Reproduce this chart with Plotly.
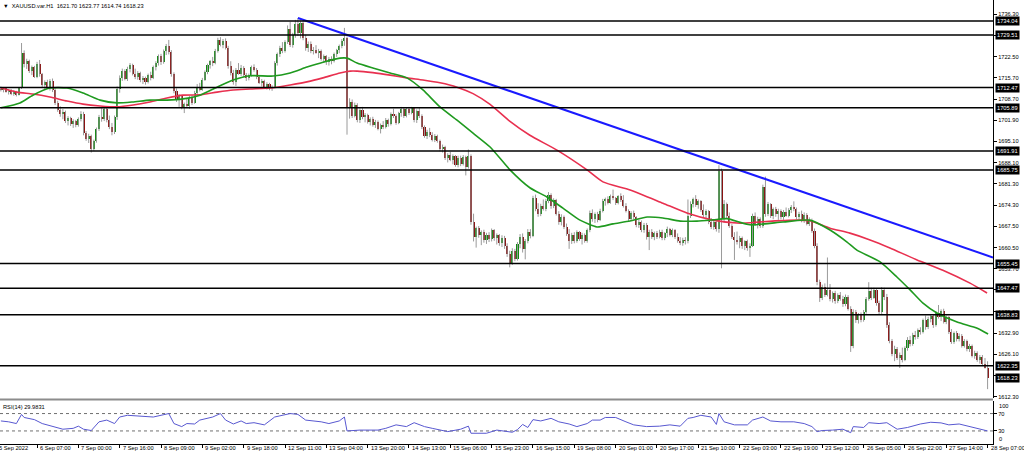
import plotly.graph_objects as go

# ---------------- data ----------------
first_bar = 2  # bar index of the first visible candle (bar 0 = "5 Sep 2022" label)

opens = [
    1712.0, 1711.6, 1712.2, 1711.1, 1711.5, 1710.4, 1711.0, 1710.1, 1712.3, 1723.8,
    1720.2, 1721.0, 1717.8, 1719.2, 1716.0, 1720.2, 1716.8, 1713.3, 1714.2, 1712.6,
    1714.6, 1711.6, 1707.4, 1705.3, 1703.8, 1704.6, 1701.6, 1702.5, 1700.6, 1701.6,
    1700.2, 1702.3, 1704.0, 1697.6, 1695.8, 1696.8, 1692.5, 1695.0, 1699.0, 1703.0,
    1702.2, 1705.4, 1701.8, 1699.6, 1698.2, 1702.8, 1712.0, 1715.6, 1717.8, 1715.4,
    1718.6, 1719.8, 1717.0, 1716.0, 1717.2, 1714.8, 1715.6, 1714.2, 1716.4, 1715.6,
    1719.0, 1720.4, 1722.6, 1720.8, 1724.2, 1725.8, 1724.0, 1716.8, 1711.4, 1708.6,
    1709.6, 1706.0, 1707.0, 1706.4, 1709.2, 1707.6, 1710.8, 1712.6, 1711.8, 1715.0,
    1717.4, 1719.8, 1721.0, 1720.4, 1724.4, 1727.8, 1726.4, 1727.6, 1725.4, 1719.4,
    1717.2, 1714.2, 1718.2, 1717.0, 1718.8, 1716.4, 1715.6, 1716.6, 1719.0, 1718.2,
    1715.8, 1714.0, 1714.6, 1712.8, 1713.6, 1712.4, 1712.8, 1720.4, 1723.2, 1725.4,
    1724.2, 1727.2, 1731.4, 1726.4, 1729.4, 1733.2, 1730.0, 1733.4, 1728.6, 1725.2,
    1726.6, 1724.2, 1724.8, 1723.8, 1724.4, 1721.8, 1722.6, 1720.6, 1721.8, 1721.0,
    1723.2, 1724.6, 1725.8, 1727.6, 1728.4, 1706.0, 1707.8, 1703.4, 1706.8, 1701.8,
    1705.2, 1702.8, 1703.6, 1701.4, 1702.2, 1700.4, 1701.4, 1699.2, 1700.2, 1699.6,
    1702.0, 1700.6, 1703.8, 1703.2, 1701.0, 1704.2, 1705.4, 1703.2, 1705.6, 1704.2,
    1705.8, 1701.8, 1704.8, 1703.4, 1699.6, 1696.8, 1698.2, 1697.0, 1695.6, 1696.8,
    1695.2, 1692.4, 1693.2, 1689.6, 1690.6, 1689.0, 1690.2, 1687.4, 1689.8, 1687.8,
    1690.0, 1686.8, 1690.2, 1669.0, 1664.0, 1666.8, 1664.6, 1665.6, 1663.0, 1664.8,
    1663.4, 1666.2, 1663.6, 1664.6, 1662.0, 1663.8, 1661.0, 1658.4, 1655.6, 1659.6,
    1657.0, 1661.8, 1664.2, 1660.0, 1662.6, 1665.8, 1664.4, 1676.6, 1673.2, 1671.4,
    1674.2, 1673.0, 1675.8, 1677.6, 1674.0, 1676.0, 1671.6, 1668.8, 1670.6, 1667.2,
    1665.0, 1662.6, 1664.8, 1662.8, 1665.6, 1663.4, 1664.8, 1662.8, 1666.2, 1671.8,
    1669.8, 1671.4, 1669.6, 1672.6, 1675.8, 1676.2, 1675.2, 1677.2, 1676.6, 1675.0,
    1677.2, 1676.0, 1674.2, 1672.6, 1669.8, 1671.8, 1670.4, 1667.8, 1669.0, 1666.2,
    1668.0, 1664.0, 1665.8, 1664.2, 1665.2, 1664.0, 1665.8, 1663.6, 1665.2, 1666.6,
    1664.8, 1666.2, 1664.0, 1662.8, 1662.0, 1663.2, 1662.6, 1671.0, 1674.8, 1676.2,
    1674.4, 1675.6, 1672.8, 1671.2, 1672.4, 1668.8, 1667.4, 1668.8, 1666.6, 1685.4,
    1669.8, 1674.6, 1671.0, 1667.6, 1664.0, 1663.2, 1662.4, 1663.6, 1661.0, 1662.6,
    1660.4, 1661.2, 1671.0, 1668.4, 1669.8, 1667.6, 1680.4, 1671.4, 1674.6, 1670.8,
    1673.0, 1671.4, 1672.6, 1670.4, 1672.2, 1671.0, 1672.8, 1673.8, 1673.0, 1670.4,
    1671.6, 1669.4, 1671.2, 1668.4, 1669.6, 1666.0, 1661.2, 1649.4, 1644.4, 1647.8,
    1645.4, 1646.8, 1644.0, 1645.8, 1643.2, 1645.2, 1644.0, 1642.2, 1644.6, 1640.8,
    1628.6, 1639.6, 1637.0, 1638.8, 1637.2, 1639.8, 1644.0, 1646.6, 1644.4, 1647.0,
    1642.6, 1639.6, 1646.8, 1644.6, 1635.6, 1630.4, 1626.2, 1627.8, 1624.8, 1625.8,
    1624.2, 1628.0, 1630.8, 1629.4, 1632.4, 1631.6, 1633.8, 1633.2, 1637.0, 1634.8,
    1637.6, 1638.4, 1635.4, 1639.4, 1638.2, 1640.0, 1636.6, 1638.0, 1633.4, 1630.0,
    1632.8, 1631.0, 1632.0, 1628.8, 1630.4, 1627.6, 1628.8, 1625.6, 1626.6, 1624.2,
    1625.2, 1622.8, 1621.70,
]
highs = [
    1712.8, 1712.5, 1712.6, 1711.9, 1712.0, 1711.6, 1711.4, 1712.6, 1726.9, 1724.5,
    1721.8, 1721.5, 1719.6, 1719.5, 1720.8, 1721.4, 1717.2, 1714.8, 1715.0, 1715.2,
    1715.4, 1712.2, 1708.2, 1706.4, 1705.5, 1705.0, 1703.2, 1703.0, 1702.2, 1702.0,
    1702.8, 1704.8, 1704.6, 1698.4, 1697.5, 1697.2, 1695.6, 1699.5, 1703.6, 1705.8,
    1706.2, 1706.0, 1703.4, 1701.0, 1703.4, 1712.8, 1716.4, 1718.6, 1718.4, 1719.2,
    1720.4, 1720.2, 1718.6, 1717.8, 1717.6, 1716.2, 1716.0, 1717.0, 1717.6, 1719.6,
    1721.0, 1723.2, 1723.4, 1724.8, 1726.6, 1727.9, 1724.6, 1717.4, 1712.2, 1710.4,
    1710.0, 1707.6, 1708.8, 1709.8, 1710.0, 1711.4, 1713.6, 1714.0, 1715.6, 1718.0,
    1720.2, 1721.4, 1722.4, 1725.0, 1728.6, 1728.8, 1728.2, 1728.4, 1726.0, 1721.0,
    1718.2, 1718.8, 1720.4, 1719.8, 1719.4, 1717.2, 1717.0, 1719.6, 1720.0, 1718.8,
    1716.4, 1715.2, 1715.0, 1714.2, 1714.0, 1713.2, 1721.0, 1723.8, 1726.0, 1727.2,
    1727.8, 1732.6, 1733.8, 1730.2, 1734.4, 1735.0, 1734.2, 1734.0, 1729.6, 1727.4,
    1727.4, 1725.6, 1726.2, 1725.0, 1724.8, 1723.2, 1723.0, 1722.4, 1722.6, 1723.8,
    1725.0, 1726.4, 1728.2, 1731.8, 1729.0, 1709.0, 1708.6, 1707.6, 1707.4, 1705.8,
    1706.2, 1704.2, 1704.0, 1702.8, 1703.0, 1702.0, 1701.8, 1700.8, 1701.6, 1702.6,
    1702.4, 1704.4, 1705.6, 1703.8, 1704.6, 1706.2, 1705.8, 1706.0, 1706.2, 1706.2,
    1706.0, 1705.4, 1705.8, 1703.8, 1700.2, 1698.8, 1699.4, 1698.0, 1697.4, 1697.2,
    1695.6, 1694.0, 1693.6, 1691.2, 1691.6, 1690.8, 1690.6, 1690.4, 1690.4, 1690.6,
    1690.4, 1692.4, 1690.8, 1671.6, 1667.4, 1667.6, 1666.2, 1666.4, 1665.4, 1665.6,
    1666.8, 1666.6, 1665.2, 1665.0, 1664.6, 1664.4, 1662.0, 1659.6, 1660.4, 1660.2,
    1662.4, 1665.0, 1665.2, 1663.4, 1666.6, 1666.6, 1677.4, 1677.8, 1675.0, 1674.8,
    1676.2, 1676.4, 1678.6, 1678.2, 1676.6, 1676.4, 1672.4, 1671.4, 1671.0, 1668.4,
    1666.6, 1665.4, 1665.6, 1666.2, 1666.0, 1665.4, 1665.2, 1666.8, 1672.6, 1673.0,
    1672.0, 1672.2, 1673.2, 1676.4, 1676.8, 1677.2, 1677.8, 1679.4, 1677.0, 1677.6,
    1678.2, 1677.6, 1675.0, 1673.0, 1672.4, 1672.6, 1670.8, 1669.6, 1669.4, 1668.6,
    1668.6, 1666.4, 1666.6, 1665.8, 1666.0, 1666.4, 1666.4, 1665.6, 1667.4, 1667.0,
    1666.8, 1666.6, 1665.2, 1664.0, 1663.8, 1664.0, 1676.2, 1675.6, 1676.8, 1677.6,
    1676.2, 1676.0, 1674.6, 1673.0, 1672.8, 1670.2, 1669.6, 1669.2, 1687.3, 1686.2,
    1676.0, 1675.2, 1672.0, 1668.2, 1665.6, 1665.8, 1664.4, 1664.2, 1663.0, 1663.2,
    1662.0, 1671.6, 1672.0, 1670.6, 1670.4, 1681.0, 1683.6, 1675.4, 1675.0, 1673.6,
    1673.8, 1673.2, 1673.0, 1672.8, 1673.6, 1673.4, 1674.4, 1675.6, 1673.6, 1672.2,
    1672.6, 1672.0, 1671.8, 1670.4, 1670.0, 1666.8, 1662.0, 1650.2, 1648.6, 1649.0,
    1657.4, 1648.8, 1646.4, 1646.6, 1645.8, 1646.2, 1645.0, 1645.4, 1645.2, 1641.6,
    1640.6, 1640.4, 1639.4, 1639.6, 1640.4, 1644.6, 1649.4, 1647.6, 1647.6, 1647.4,
    1643.4, 1647.8, 1647.6, 1645.6, 1636.4, 1631.0, 1628.8, 1628.4, 1626.6, 1628.2,
    1628.6, 1631.6, 1632.0, 1633.0, 1633.6, 1634.4, 1634.8, 1637.6, 1638.6, 1638.2,
    1639.0, 1638.8, 1640.0, 1642.0, 1640.6, 1640.8, 1638.6, 1638.4, 1634.2, 1633.4,
    1633.6, 1632.8, 1632.6, 1631.0, 1630.8, 1629.4, 1629.2, 1627.2, 1627.0, 1625.8,
    1625.8, 1624.8, 1623.77,
]
lows = [
    1711.2, 1710.9, 1710.8, 1710.2, 1710.0, 1709.8, 1709.6, 1709.9, 1712.0, 1719.0,
    1718.5, 1717.2, 1716.5, 1715.6, 1715.5, 1716.0, 1712.5, 1711.8, 1712.0, 1711.5,
    1711.0, 1706.8, 1704.6, 1703.0, 1702.2, 1701.0, 1700.2, 1700.0, 1699.4, 1699.6,
    1699.8, 1701.5, 1697.0, 1695.2, 1694.5, 1691.4, 1692.0, 1694.6, 1698.4, 1701.4,
    1701.6, 1701.2, 1699.0, 1697.0, 1697.4, 1702.0, 1710.8, 1714.6, 1714.8, 1714.6,
    1717.4, 1716.4, 1715.2, 1715.0, 1714.2, 1713.6, 1713.4, 1713.8, 1714.8, 1715.2,
    1718.0, 1719.6, 1719.8, 1720.2, 1723.0, 1723.2, 1716.0, 1710.6, 1707.8, 1706.2,
    1705.4, 1704.2, 1705.8, 1705.6, 1706.8, 1707.2, 1710.0, 1711.2, 1711.4, 1714.6,
    1716.8, 1718.6, 1719.4, 1720.0, 1723.8, 1725.8, 1725.2, 1724.8, 1718.6, 1716.4,
    1713.4, 1713.0, 1716.6, 1716.2, 1715.8, 1714.6, 1714.8, 1716.0, 1717.6, 1715.2,
    1713.6, 1712.8, 1712.2, 1711.8, 1711.6, 1711.4, 1712.4, 1719.6, 1722.4, 1723.6,
    1723.8, 1726.6, 1725.6, 1725.4, 1728.6, 1729.2, 1728.4, 1727.8, 1724.4, 1724.0,
    1723.6, 1723.2, 1723.4, 1722.0, 1721.2, 1720.4, 1719.8, 1719.6, 1720.0, 1720.6,
    1722.4, 1723.6, 1725.2, 1726.0, 1697.2, 1702.4, 1702.6, 1702.8, 1701.2, 1701.0,
    1702.2, 1701.2, 1700.8, 1700.2, 1699.8, 1699.4, 1698.6, 1697.6, 1699.0, 1699.2,
    1699.8, 1700.2, 1702.6, 1700.4, 1700.6, 1703.0, 1702.6, 1702.8, 1703.6, 1703.8,
    1701.2, 1701.0, 1702.6, 1699.0, 1696.2, 1695.8, 1696.4, 1695.0, 1694.8, 1694.6,
    1691.8, 1691.4, 1689.0, 1688.2, 1688.6, 1687.6, 1686.8, 1686.6, 1687.0, 1687.2,
    1684.0, 1686.2, 1668.0, 1662.6, 1660.6, 1663.8, 1661.4, 1662.2, 1661.8, 1662.4,
    1662.6, 1662.8, 1661.6, 1661.2, 1660.8, 1660.2, 1657.6, 1654.2, 1655.0, 1656.2,
    1656.4, 1660.4, 1659.0, 1656.8, 1662.0, 1663.6, 1664.0, 1672.4, 1670.6, 1670.8,
    1672.6, 1672.4, 1675.0, 1673.2, 1673.4, 1671.0, 1668.0, 1667.8, 1666.6, 1664.4,
    1660.2, 1661.8, 1662.0, 1662.2, 1662.8, 1661.6, 1662.2, 1662.2, 1665.6, 1669.0,
    1668.6, 1668.8, 1669.2, 1672.0, 1674.2, 1674.6, 1674.8, 1676.0, 1674.4, 1674.6,
    1675.4, 1673.6, 1672.0, 1669.2, 1669.2, 1669.8, 1667.2, 1667.0, 1665.6, 1665.4,
    1663.2, 1659.8, 1663.4, 1663.0, 1663.4, 1663.6, 1663.0, 1663.0, 1664.0, 1664.2,
    1664.0, 1663.4, 1662.2, 1661.4, 1661.2, 1661.6, 1662.0, 1670.2, 1673.6, 1673.8,
    1673.2, 1672.2, 1670.4, 1669.8, 1668.2, 1666.6, 1666.4, 1665.8, 1665.4, 1653.9,
    1668.6, 1670.2, 1667.0, 1663.4, 1656.6, 1661.6, 1660.4, 1660.2, 1659.8, 1659.6,
    1657.6, 1660.8, 1667.6, 1666.8, 1667.0, 1667.0, 1670.6, 1670.8, 1670.2, 1669.8,
    1670.6, 1669.6, 1669.8, 1669.6, 1670.6, 1670.4, 1671.8, 1672.4, 1669.8, 1669.6,
    1668.8, 1668.6, 1667.8, 1667.6, 1665.4, 1660.4, 1648.4, 1643.0, 1643.6, 1644.6,
    1644.8, 1643.2, 1642.8, 1642.4, 1642.6, 1643.4, 1641.4, 1641.6, 1640.2, 1626.8,
    1628.0, 1636.2, 1636.0, 1636.4, 1636.6, 1639.2, 1643.4, 1643.6, 1644.0, 1641.8,
    1638.8, 1639.0, 1643.6, 1634.6, 1629.6, 1625.4, 1623.8, 1624.2, 1621.6, 1623.4,
    1623.8, 1627.2, 1628.6, 1628.8, 1630.8, 1631.0, 1632.4, 1632.8, 1634.0, 1634.2,
    1636.4, 1634.6, 1635.0, 1637.6, 1636.8, 1636.0, 1635.8, 1632.6, 1629.4, 1629.4,
    1630.2, 1630.2, 1628.2, 1628.2, 1627.0, 1626.8, 1625.0, 1624.6, 1623.6, 1623.0,
    1622.2, 1621.4, 1614.74,
]
closes = [
    1711.6, 1712.2, 1711.1, 1711.5, 1710.4, 1711.0, 1710.1, 1712.3, 1723.8, 1720.2,
    1721.0, 1717.8, 1719.2, 1716.0, 1720.2, 1716.8, 1713.3, 1714.2, 1712.6, 1714.6,
    1711.6, 1707.4, 1705.3, 1703.8, 1704.6, 1701.6, 1702.5, 1700.6, 1701.6, 1700.2,
    1702.3, 1704.0, 1697.6, 1695.8, 1696.8, 1692.5, 1695.0, 1699.0, 1703.0, 1702.2,
    1705.4, 1701.8, 1699.6, 1698.2, 1702.8, 1712.0, 1715.6, 1717.8, 1715.4, 1718.6,
    1719.8, 1717.0, 1716.0, 1717.2, 1714.8, 1715.6, 1714.2, 1716.4, 1715.6, 1719.0,
    1720.4, 1722.6, 1720.8, 1724.2, 1725.8, 1724.0, 1716.8, 1711.4, 1708.6, 1709.6,
    1706.0, 1707.0, 1706.4, 1709.2, 1707.6, 1710.8, 1712.6, 1711.8, 1715.0, 1717.4,
    1719.8, 1721.0, 1720.4, 1724.4, 1727.8, 1726.4, 1727.6, 1725.4, 1719.4, 1717.2,
    1714.2, 1718.2, 1717.0, 1718.8, 1716.4, 1715.6, 1716.6, 1719.0, 1718.2, 1715.8,
    1714.0, 1714.6, 1712.8, 1713.6, 1712.4, 1712.8, 1720.4, 1723.2, 1725.4, 1724.2,
    1727.2, 1731.4, 1726.4, 1729.4, 1733.2, 1730.0, 1733.4, 1728.6, 1725.2, 1726.6,
    1724.2, 1724.8, 1723.8, 1724.4, 1721.8, 1722.6, 1720.6, 1721.8, 1721.0, 1723.2,
    1724.6, 1725.8, 1727.6, 1728.4, 1706.0, 1707.8, 1703.4, 1706.8, 1701.8, 1705.2,
    1702.8, 1703.6, 1701.4, 1702.2, 1700.4, 1701.4, 1699.2, 1700.2, 1699.6, 1702.0,
    1700.6, 1703.8, 1703.2, 1701.0, 1704.2, 1705.4, 1703.2, 1705.6, 1704.2, 1705.8,
    1701.8, 1704.8, 1703.4, 1699.6, 1696.8, 1698.2, 1697.0, 1695.6, 1696.8, 1695.2,
    1692.4, 1693.2, 1689.6, 1690.6, 1689.0, 1690.2, 1687.4, 1689.8, 1687.8, 1690.0,
    1686.8, 1690.2, 1669.0, 1664.0, 1666.8, 1664.6, 1665.6, 1663.0, 1664.8, 1663.4,
    1666.2, 1663.6, 1664.6, 1662.0, 1663.8, 1661.0, 1658.4, 1655.6, 1659.6, 1657.0,
    1661.8, 1664.2, 1660.0, 1662.6, 1665.8, 1664.4, 1676.6, 1673.2, 1671.4, 1674.2,
    1673.0, 1675.8, 1677.6, 1674.0, 1676.0, 1671.6, 1668.8, 1670.6, 1667.2, 1665.0,
    1662.6, 1664.8, 1662.8, 1665.6, 1663.4, 1664.8, 1662.8, 1666.2, 1671.8, 1669.8,
    1671.4, 1669.6, 1672.6, 1675.8, 1676.2, 1675.2, 1677.2, 1676.6, 1675.0, 1677.2,
    1676.0, 1674.2, 1672.6, 1669.8, 1671.8, 1670.4, 1667.8, 1669.0, 1666.2, 1668.0,
    1664.0, 1665.8, 1664.2, 1665.2, 1664.0, 1665.8, 1663.6, 1665.2, 1666.6, 1664.8,
    1666.2, 1664.0, 1662.8, 1662.0, 1663.2, 1662.6, 1671.0, 1674.8, 1676.2, 1674.4,
    1675.6, 1672.8, 1671.2, 1672.4, 1668.8, 1667.4, 1668.8, 1666.6, 1685.4, 1669.8,
    1674.6, 1671.0, 1667.6, 1664.0, 1663.2, 1662.4, 1663.6, 1661.0, 1662.6, 1660.4,
    1661.2, 1671.0, 1668.4, 1669.8, 1667.6, 1680.4, 1671.4, 1674.6, 1670.8, 1673.0,
    1671.4, 1672.6, 1670.4, 1672.2, 1671.0, 1672.8, 1673.8, 1673.0, 1670.4, 1671.6,
    1669.4, 1671.2, 1668.4, 1669.6, 1666.0, 1661.2, 1649.4, 1644.4, 1647.8, 1645.4,
    1646.8, 1644.0, 1645.8, 1643.2, 1645.2, 1644.0, 1642.2, 1644.6, 1640.8, 1628.6,
    1639.6, 1637.0, 1638.8, 1637.2, 1639.8, 1644.0, 1646.6, 1644.4, 1647.0, 1642.6,
    1639.6, 1646.8, 1644.6, 1635.6, 1630.4, 1626.2, 1627.8, 1624.8, 1625.8, 1624.2,
    1628.0, 1630.8, 1629.4, 1632.4, 1631.6, 1633.8, 1633.2, 1637.0, 1634.8, 1637.6,
    1638.4, 1635.4, 1639.4, 1638.2, 1640.0, 1636.6, 1638.0, 1633.4, 1630.0, 1632.8,
    1631.0, 1632.0, 1628.8, 1630.4, 1627.6, 1628.8, 1625.6, 1626.6, 1624.2, 1625.2,
    1622.8, 1621.7, 1618.23,
]

# moving averages (green = fast, red = slow), read at sampled bars
ma_fast_bars = [2, 9.4, 14.4, 21, 27.6, 33.8, 40.4, 47, 53, 59.7,
                66.3, 72.5, 79.1, 85.7, 91.9, 98.5, 107.4, 114, 120.5, 126.7,
                133.3, 136, 139.9, 146, 152.7, 159.2, 165.4, 172, 178.6, 184.8,
                191.4, 199.1, 206.8, 213.4, 219.6, 226.2, 232.8, 239, 245.6, 252.2,
                258.3, 265, 271.5, 277.7, 283.1, 292, 304.8, 315.2, 323, 329.6,
                333.4, 342.4, 349, 354, 359, 364.4, 372.2, 380, 384.2]
ma_fast = [1705.9, 1707.5, 1710.0, 1712.3, 1712.3, 1710.7, 1708.4, 1707.5, 1707.8, 1708.4,
           1708.4, 1708.8, 1710.0, 1712.6, 1714.9, 1716.3, 1716.2, 1717.2, 1719.1, 1720.7,
           1722.0, 1722.0, 1720.4, 1718.8, 1717.2, 1715.6, 1711.7, 1706.2, 1701.9, 1697.7,
           1693.2, 1685.8, 1680.0, 1677.0, 1673.4, 1669.5, 1667.3, 1668.3, 1669.2, 1670.5,
           1670.2, 1669.2, 1669.2, 1669.6, 1670.0, 1668.0, 1668.9, 1669.5, 1666.3, 1662.4,
           1659.8, 1656.0, 1651.0, 1646.9, 1642.6, 1639.4, 1636.5, 1634.5, 1632.6]
ma_slow_bars = [2, 8.2, 14.4, 21, 27.6, 33.8, 40.4, 47, 53.2, 59.7,
                66.3, 72.5, 79.1, 85.7, 91.9, 98.5, 107.4, 114, 120.5, 126.7,
                133.3, 137.2, 139.9, 146, 152.7, 159.2, 165.4, 172, 178.6, 184.8,
                191.4, 199.1, 206.8, 217.3, 228.9, 235.1, 245.6, 258.3, 267.6, 277.7,
                288.2, 297, 310.2, 315.2, 323, 330.7, 338.5, 346.2, 356.7, 366.7,
                377.2, 383.8]
ma_slow = [1712.3, 1711.0, 1710.4, 1709.4, 1708.1, 1707.1, 1706.5, 1706.2, 1706.8, 1707.8,
           1709.1, 1710.0, 1710.1, 1711.0, 1711.7, 1712.0, 1712.4, 1713.3, 1714.3, 1715.6,
           1717.2, 1717.8, 1717.8, 1717.3, 1716.5, 1715.6, 1714.9, 1714.0, 1712.6, 1710.5,
           1707.0, 1701.5, 1697.0, 1692.2, 1685.8, 1681.9, 1679.3, 1675.0, 1671.8, 1669.5,
           1668.5, 1669.0, 1669.5, 1669.3, 1666.9, 1665.3, 1663.1, 1660.5, 1656.6, 1653.3,
           1649.1, 1645.9]

# down trend line anchors (bar, price)
trend_bars = [117, 386.1]
trend_prices = [1735.0, 1657.4]

# horizontal support / resistance levels
levels = [1734.04, 1729.51, 1712.47, 1705.89, 1691.91, 1685.75,
          1655.45, 1647.47, 1638.83, 1622.35]

# price axis ticks
price_ticks = [1736.30, 1729.50, 1722.50, 1715.70, 1708.70, 1701.90, 1695.10,
               1688.10, 1681.30, 1674.30, 1667.50, 1660.50, 1653.70, 1646.90,
               1639.90, 1632.90, 1626.10, 1619.10, 1612.30]

# time axis labels (every 16 bars)
time_labels = ["5 Sep 2022", "6 Sep 07:00", "7 Sep 00:00", "7 Sep 16:00", "8 Sep 09:00",
               "9 Sep 02:00", "9 Sep 18:00", "12 Sep 11:00", "13 Sep 04:00", "13 Sep 20:00",
               "14 Sep 13:00", "15 Sep 06:00", "15 Sep 23:00", "16 Sep 15:00", "19 Sep 08:00",
               "20 Sep 01:00", "20 Sep 17:00", "21 Sep 10:00", "22 Sep 03:00", "22 Sep 19:00",
               "23 Sep 12:00", "26 Sep 05:00", "26 Sep 22:00", "27 Sep 14:00", "28 Sep 07:00"]
time_label_bars = [0, 16, 32, 48, 64, 80, 96, 112, 128, 144, 160, 176, 192, 208, 224,
                   240, 256, 272, 288, 304, 320, 336, 352, 368, 384]

# RSI(14) read at sampled bars
rsi_bars = [2, 5, 8, 10, 11, 15, 18, 22, 26, 30, 32, 34, 37, 40, 43, 46, 48, 51, 56, 61,
            67, 69, 72, 74, 77, 79, 84, 87, 89, 92, 95, 97, 100, 104, 108, 111, 114, 117, 120, 126,
            129, 133, 135, 136, 141, 148, 151, 155, 159, 162, 166, 169, 175, 180, 183, 184, 190, 194, 198, 200,
            202, 204, 206, 208, 211, 215, 218, 222, 225, 229, 231, 234, 236, 240, 244, 247, 252, 257, 261, 265,
            268, 270, 273, 277, 279, 280, 282, 286, 291, 293, 297, 300, 304, 309, 313, 316, 318, 320, 324, 328,
            331, 332, 336, 338, 342, 345, 349, 353, 358, 362, 366, 369, 373, 378, 384]
rsi_vals = [53, 51, 47, 68, 61, 56, 47, 40, 34, 36, 41, 34, 31, 51, 55, 47, 62, 66, 64, 62,
            70, 47, 40, 47, 46, 55, 62, 70, 55, 46, 53, 47, 49, 44, 62, 66, 70, 68, 55, 51,
            47, 53, 62, 30, 32, 32, 36, 44, 40, 49, 40, 36, 28.5, 34, 41, 24.7, 24.7, 32, 28.5, 27,
            33, 45, 38, 56, 53, 59, 51, 46, 40, 47, 55, 55, 61, 61, 51, 44, 40, 41, 44, 41,
            59, 61, 66, 62, 45, 70, 51, 44, 44, 55, 62, 53, 51, 51, 47, 40, 28.5, 31, 32, 34,
            26, 40, 38, 49, 47, 49, 34, 38, 46, 50, 48.5, 44, 46, 38, 30]
rsi_last = 29.9831
rsi_levels = [30, 70]

symbol = "XAUUSD.var.H1"

# ---------------- figure ----------------
FONT = "Liberation Sans"
FS = 5.7
UP = "#128a12"
DOWN = "#8a1010"
WICK = "#9a9a9a"
X_RANGE = [1.66, 386.1]

bars = list(range(first_bar, first_bar + len(closes)))

fig = go.Figure()

# wicks (low -> high)
fig.add_trace(go.Scatter(
    x=bars, y=lows, mode="markers",
    marker=dict(size=1, color="rgba(0,0,0,0)"),
    error_y=dict(type="data", symmetric=False,
                 array=[h - l for h, l in zip(highs, lows)],
                 arrayminus=[0] * len(lows),
                 thickness=1, width=0, color=WICK),
    hoverinfo="skip", showlegend=False, xaxis="x", yaxis="y"))

# bodies
fig.add_trace(go.Bar(
    x=bars, y=[c - o for o, c in zip(opens, closes)], base=opens,
    width=0.8,
    marker=dict(color=[UP if c >= o else DOWN for o, c in zip(opens, closes)],
                line=dict(width=0)),
    hoverinfo="skip", showlegend=False, xaxis="x", yaxis="y"))

fig.add_trace(go.Scatter(x=ma_slow_bars, y=ma_slow, mode="lines",
                         line=dict(color="#e8304f", width=1.6, shape="spline", smoothing=0.6),
                         hoverinfo="skip", showlegend=False, xaxis="x", yaxis="y"))
fig.add_trace(go.Scatter(x=ma_fast_bars, y=ma_fast, mode="lines",
                         line=dict(color="#1f9a1f", width=1.6, shape="spline", smoothing=0.6),
                         hoverinfo="skip", showlegend=False, xaxis="x", yaxis="y"))
fig.add_trace(go.Scatter(x=trend_bars, y=trend_prices, mode="lines",
                         line=dict(color="#1a1aff", width=2),
                         hoverinfo="skip", showlegend=False, xaxis="x", yaxis="y"))

fig.add_trace(go.Scatter(x=rsi_bars, y=rsi_vals, mode="lines",
                         line=dict(color="#5858d0", width=1),
                         hoverinfo="skip", showlegend=False, xaxis="x", yaxis="y2"))

H_PLOT = 444.0
main_dom = [(H_PLOT - 398) / H_PLOT, 1.0]
rsi_dom = [0.0, (H_PLOT - 400.5) / H_PLOT]

shapes = []
for lv in levels:
    shapes.append(dict(type="line", xref="paper", yref="y", x0=0, x1=1, y0=lv, y1=lv,
                       line=dict(color="black", width=1.5), layer="above"))
for lv in rsi_levels:
    shapes.append(dict(type="line", xref="paper", yref="y2", x0=0, x1=1, y0=lv, y1=lv,
                       line=dict(color="#707070", width=1, dash="dot"), layer="below"))
sep_y = (H_PLOT - 399.4) / H_PLOT
shapes.append(dict(type="line", xref="paper", yref="paper", x0=0, x1=1, y0=sep_y, y1=sep_y,
                   line=dict(color="#8c8c8c", width=2)))

annotations = []
for lv in levels + [closes[-1]]:
    annotations.append(dict(xref="paper", yref="y", x=1, y=lv, xanchor="left", yanchor="middle",
                            xshift=2, text=f"{lv:.2f}", showarrow=False,
                            font=dict(family=FONT, size=FS, color="white"),
                            bgcolor="black", borderpad=1))
for b, t in zip(time_label_bars, time_labels):
    if b < X_RANGE[0]:
        # label of a bar left of the visible range: place it through the axis mapping in paper units
        ref, xpos = "paper", (b - X_RANGE[0]) / (X_RANGE[1] - X_RANGE[0])
    else:
        ref, xpos = "x", b
    annotations.append(dict(xref=ref, yref="paper", x=xpos, y=0, xanchor="left", yanchor="top",
                            xshift=1, yshift=1, text=t, showarrow=False,
                            font=dict(family=FONT, size=FS, color="black")))
annotations.append(dict(xref="paper", yref="paper", x=0, y=1, xanchor="left", yanchor="top",
                        xshift=1, yshift=-1,
                        text=f"▼  {symbol}  {opens[-1]:.2f} {highs[-1]:.2f} {lows[-1]:.2f} {closes[-1]:.2f}",
                        showarrow=False, font=dict(family=FONT, size=FS, color="black")))
annotations.append(dict(xref="paper", yref="y2", x=0, y=100, xanchor="left", yanchor="top",
                        xshift=1, yshift=-1, text=f"RSI(14) {rsi_last}", showarrow=False,
                        font=dict(family=FONT, size=FS, color="black")))
annotations.append(dict(xref="paper", yref="y2", x=1, y=100, xanchor="left", yanchor="top",
                        xshift=4, text="100", showarrow=False,
                        font=dict(family=FONT, size=FS, color="black")))
annotations.append(dict(xref="paper", yref="y2", x=1, y=0, xanchor="left", yanchor="bottom",
                        xshift=4, text="0", showarrow=False,
                        font=dict(family=FONT, size=FS, color="black")))

fig.update_layout(
    width=1024, height=454,
    margin=dict(l=0, r=31, t=0, b=454 - int(H_PLOT)),
    paper_bgcolor="white", plot_bgcolor="white",
    showlegend=False, bargap=0,
    font=dict(family=FONT, size=FS, color="black"),
    xaxis=dict(range=X_RANGE, domain=[0, 1], anchor="y2",
               showgrid=False, zeroline=False, showline=True, linecolor="black", linewidth=1,
               tickvals=time_label_bars, ticktext=[""] * len(time_label_bars),
               ticks="outside", ticklen=3, tickcolor="black", showticklabels=False,
               fixedrange=True),
    yaxis=dict(domain=main_dom, range=[1611.87, 1740.84], side="right", anchor="x",
               showgrid=False, zeroline=False, showline=True, linecolor="black", linewidth=1,
               tickvals=price_ticks, ticktext=[f"{v:.2f}" for v in price_ticks],
               ticks="outside", ticklen=3, tickcolor="black",
               tickfont=dict(family=FONT, size=FS, color="black")),
    yaxis2=dict(domain=rsi_dom, range=[0, 100], side="right", anchor="x",
                showgrid=False, zeroline=False, showline=True, linecolor="black", linewidth=1,
                tickvals=rsi_levels, ticktext=[str(v) for v in rsi_levels],
                ticks="outside", ticklen=3, tickcolor="black",
                tickfont=dict(family=FONT, size=FS, color="black")),
    shapes=shapes, annotations=annotations,
)

fig.write_html("out.html", config={"displayModeBar": False, "staticPlot": True},
               post_script="document.body.style.margin='0';document.body.style.overflow='hidden';")
